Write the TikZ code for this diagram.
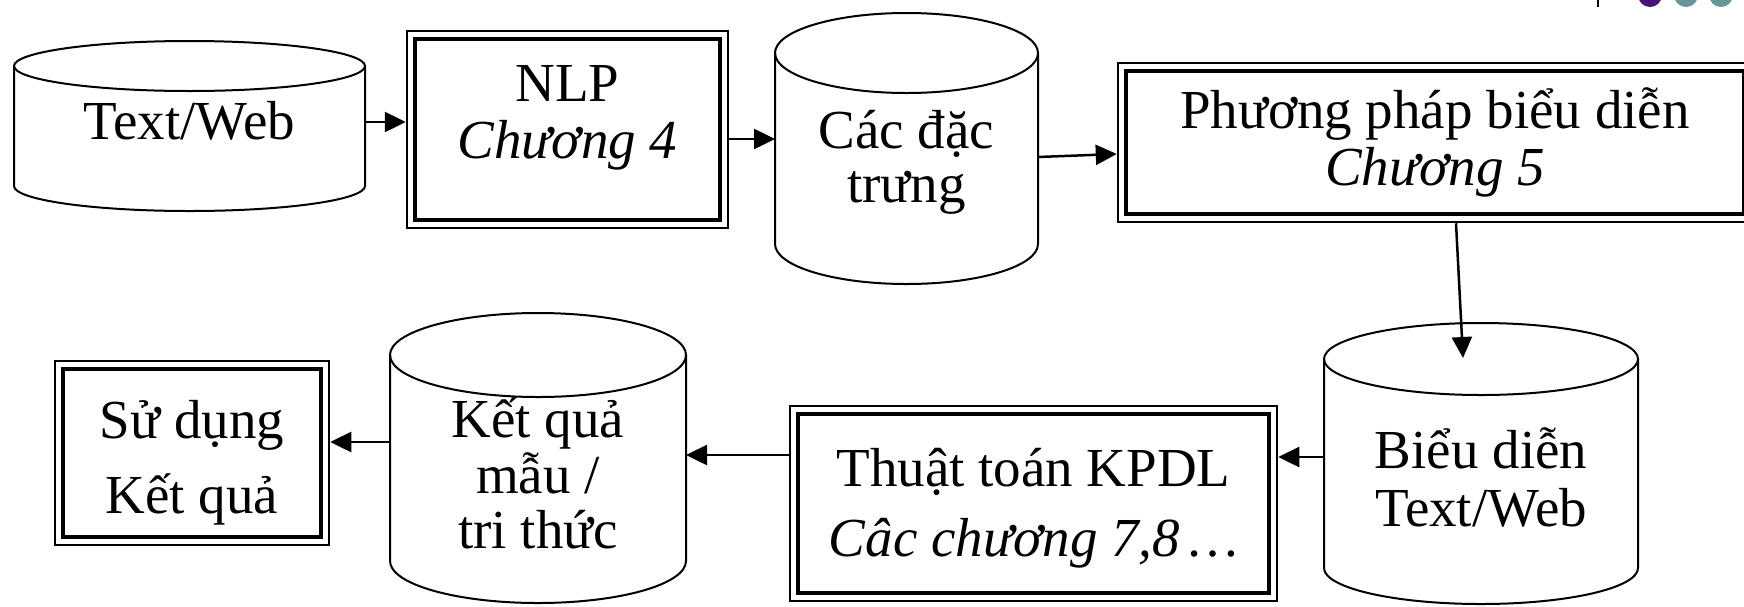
\documentclass[tikz,border=0pt]{standalone}
\usepackage{fontspec}
\setmainfont{Liberation Serif}
\usetikzlibrary{arrows.meta}
\definecolor{decopurple}{RGB}{74,18,120}
\definecolor{decoteal}{RGB}{102,152,153}
\tikzset{
  txt/.style={anchor=base, inner sep=0pt, font=\fontsize{55}{60}\selectfont},
  itxt/.style={txt, font=\fontsize{55}{60}\selectfont\itshape},
  obox/.style={draw, line width=2.5pt, inner sep=0pt, fill=white},
  cylbox/.style={inner sep=0pt, outer sep=0pt},
  cylline/.style={line width=2pt, fill=white},
  arr/.style={line width=2.5pt, -{Triangle[length=21pt,width=20pt]}},
}
% name, cx, cy, w, h, ry
\newcommand\mycyl[6]{%
  \node[cylbox, minimum width=#4pt, minimum height=#5pt] (#1) at (#2,#3) {};
  \draw[cylline] ([yshift=-#6pt]#1.north west) -- ([yshift=#6pt]#1.south west)
     arc[start angle=180, end angle=0, x radius=#4/2, y radius=#6]
     -- ([yshift=-#6pt]#1.north east)
     arc[start angle=0, end angle=-180, x radius=#4/2, y radius=#6] -- cycle;
  \draw[cylline, fill=none] ([yshift=-#6pt]#1.north west)
     arc[start angle=180, end angle=0, x radius=#4/2, y radius=#6];
}
% name, cx, cy, w, h
\newcommand\mydbox[5]{%
  \node[obox, minimum width=#4pt, minimum height=#5pt] (#1) at (#2,#3) {};
  \draw[line width=4pt] ([shift={(9pt,-9pt)}]#1.north west) rectangle ([shift={(-9pt,9pt)}]#1.south east);
}
\begin{document}
\begin{tikzpicture}[x=1pt,y=-1pt]
\useasboundingbox[fill=white] (0,0) rectangle (1744,606);

% top-right decoration
\draw[line width=2pt] (1597.5,0) -- (1597.5,7);
\fill[decopurple] (1650,-5) circle[radius=12];
\fill[decoteal] (1686,-5) circle[radius=12];
\fill[decoteal] (1721,-5) circle[radius=12];

% shapes
\mycyl{tw}{189.5}{126}{351}{170}{25}
\mydbox{nlp}{567.5}{129.5}{321}{197}
\mycyl{cd}{906.5}{148.5}{263}{271}{40}
\mydbox{pp}{1435}{142.5}{634}{159}
\mycyl{bd}{1481}{463.5}{314}{281}{36}
\mydbox{tt}{1033.5}{503.5}{487}{195}
\mycyl{kq}{538}{458}{296}{290}{42}
\mydbox{sd}{192}{453}{274}{184}

% texts
\node[txt] (tw-l1) at (189.5,139) {Text/Web};
\node[txt] (nlp-l1) at (567.5,101) {NLP};
\node[itxt] (nlp-l2) at (567.5,158) {Chương 4};
\node[txt] (cd-l1) at (906.5,148) {Các đặc};
\node[txt] (cd-l2) at (906.5,202) {trưng};
\node[txt] (pp-l1) at (1435,128) {Phương pháp biểu diễn};
\node[itxt] (pp-l2) at (1435,185) {Chương 5};
\node[txt] (bd-l1) at (1481,468) {Biểu diễn};
\node[txt] (bd-l2) at (1481,526) {Text/Web};
\node[txt] (tt-l1) at (1033.5,486) {Thuật toán KPDL};
\node[itxt] (tt-l2) at (1033.5,556) {Câc chương 7,8\,…};
\node[txt] (kq-l1) at (538,437) {Kết quả};
\node[txt] (kq-l2) at (538,493) {mẫu /};
\node[txt] (kq-l3) at (538,548) {tri thức};
\node[txt] (sd-l1) at (192,438) {Sử dụng};
\node[txt] (sd-l2) at (192,513) {Kết quả};

% connectors
\draw[arr] ([yshift=4pt]tw.east) -- ([yshift=7.5pt]nlp.west);
\draw[arr] ([yshift=-9.5pt]nlp.east) -- ([yshift=9.5pt]cd.west);
\draw[arr] ([yshift=-8.5pt]cd.east) -- ([yshift=-11.5pt]pp.west);
\draw[arr] ([xshift=21pt]pp.south) -- ([xshift=-18pt,yshift=-35pt]bd.north);
\draw[arr] ([yshift=6.5pt]bd.west) -- ([yshift=46.5pt]tt.east);
\draw[arr] ([yshift=48.5pt]tt.west) -- ([yshift=3pt]kq.east);
\draw[arr] ([yshift=16pt]kq.west) -- ([yshift=11pt]sd.east);
\end{tikzpicture}
\end{document}
